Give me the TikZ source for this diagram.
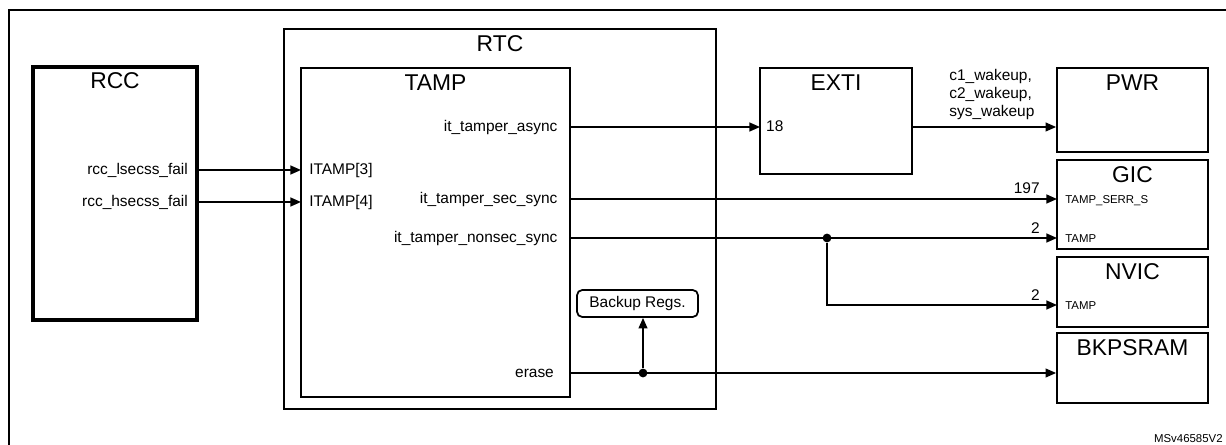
\documentclass[tikz,border=0pt]{standalone}
\usepackage{fontspec}
\setmainfont{Liberation Sans}
\usetikzlibrary{arrows.meta,fit}
\newcommand\ttlf{\fontsize{13}{15}\selectfont}
\newcommand\sigf{\fontsize{8.8}{10.2}\selectfont}
\newcommand\prtf{\fontsize{6.5}{7.5}\selectfont}
\begin{document}
\begin{tikzpicture}[x=.02cm,y=-.02cm,>={Triangle[length=6pt,width=5pt]},
box/.style={draw,line width=1pt,inner sep=0},ttl/.style={font=\ttlf,inner sep=0},
sig/.style={font=\sigf,inner ysep=1pt,inner xsep=5pt},prt/.style={font=\prtf,inner ysep=1pt,inner xsep=4.5pt,anchor=mid west},
num/.style={font=\sigf,inner sep=0,anchor=south east},dot/.style={circle,fill,inner sep=0,minimum size=5pt},
wire/.style={line width=1pt,->}]
\useasboundingbox(0,0)rectangle(1226,445);
\draw[line width=1.2pt](9,10)rectangle(1240,460);
\node(rcc)[box,line width=2pt,fit={(33,67)(197,320)}]{};
\node(rtc)[box,fit={(284,29)(716,409)}]{};
\node(tamp)[box,fit={(301,68)(570,397)}]{};
\node(exti)[box,fit={(760,68)(912,174)}]{};
\node(pwr)[box,fit={(1057,68)(1208,152)}]{};
\node(gic)[box,fit={(1057,160)(1208,249)}]{};
\node(nvic)[box,fit={(1057,257)(1208,327)}]{};
\node(bkp)[box,fit={(1057,333)(1208,403)}]{};
\node(regs)[box,rounded corners=3pt,font=\sigf,minimum width=2.42cm,minimum height=.54cm]at(637.5,303.5){Backup Regs.};
\foreach \b/\t in {rcc/RCC,rtc/RTC,tamp/TAMP,exti/EXTI,pwr/PWR,gic/GIC,nvic/NVIC,bkp/BKPSRAM}
  \node(t\b)[ttl]at([yshift=-.31cm]\b.north){\t};
\node(lse)[sig,anchor=mid east]at(197,170){rcc\_lsecss\_fail};
\node(hse)[sig,anchor=mid east]at(197,202){rcc\_hsecss\_fail};
\node(it3)[sig,anchor=mid west,inner xsep=4.5pt]at(301,170){ITAMP[3]};
\node(it4)[sig,anchor=mid west,inner xsep=4.5pt]at(301,202){ITAMP[4]};
\node(async)[sig,anchor=mid east,inner xsep=7pt]at(570,127){it\_tamper\_async};
\node(ssync)[sig,anchor=mid east,inner xsep=7pt]at(570,199){it\_tamper\_sec\_sync};
\node(nsync)[sig,anchor=mid east,inner xsep=7pt]at(570,238){it\_tamper\_nonsec\_sync};
\node(erase)[sig,anchor=mid east,inner xsep=9pt]at(570,373){erase};
\node(p18)[sig,anchor=mid west,inner xsep=3.3pt]at(760,127){18};
\node(serr)[prt]at(1057,199){TAMP\_SERR\_S};
\node(gtamp)[prt]at(1057,238){TAMP};
\node(ntamp)[prt]at(1057,305){TAMP};
\node(wk)[font=\sigf,align=left,inner sep=0,anchor=north west]at(949,69){c1\_wakeup,\\c2\_wakeup,\\sys\_wakeup};
\node(n197)[num]at(1040,194){197};
\node(n2a)[num]at(1040,234){2};
\node(n2b)[num]at(1040,301){2};
\node(sp)[dot]at(827,238){};
\node(ed)[dot]at(643,373){};
\node(msv)[font=\prtf,anchor=south east,inner sep=0]at(1223,443){MSv46585V2};
\draw[wire](lse.mid east)--(it3.mid west);
\draw[wire](hse.mid east)--(it4.mid west);
\draw[wire](async.mid east)--(p18.mid west);
\draw[wire](exti.east|-p18.mid west)--(pwr.west|-p18.mid west);
\draw[wire](ssync.mid east)--(serr.mid west);
\draw[wire](nsync.mid east)--(gtamp.mid west);
\draw[wire](sp)|-(ntamp.mid west);
\draw[wire](erase.mid east)--(bkp.west|-erase.mid east);
\draw[wire](ed)--(ed|-regs.south);
\end{tikzpicture}
\end{document}
